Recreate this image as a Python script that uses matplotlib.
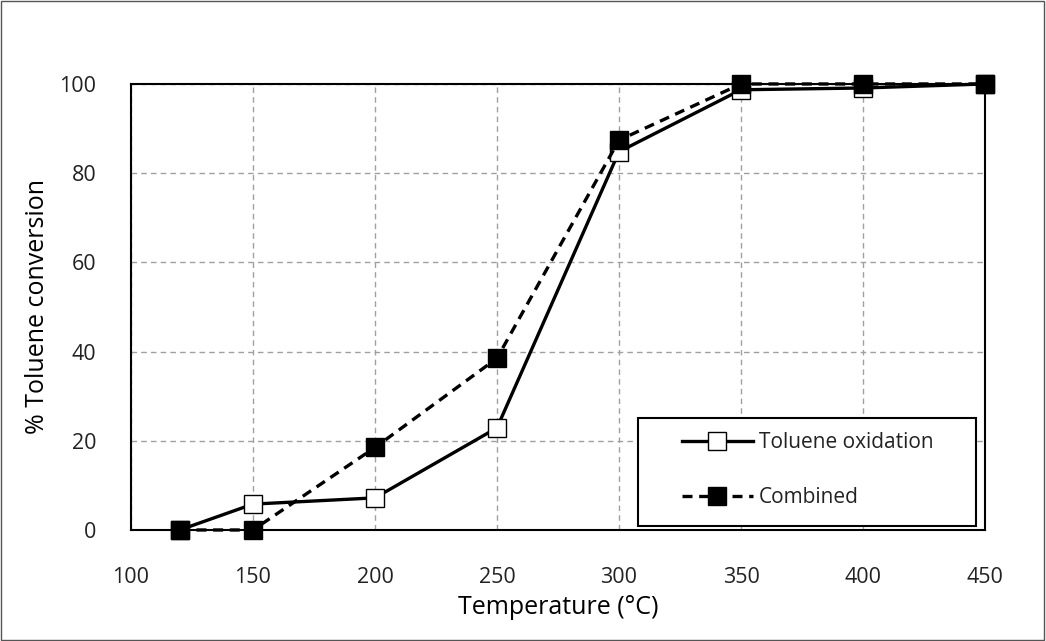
import matplotlib

matplotlib.use("Agg")
import matplotlib.pyplot as plt
from matplotlib.patches import Rectangle

plt.rcParams["font.family"] = ["Open Sans", "DejaVu Sans"]

temperature = [120, 150, 200, 250, 300, 350, 400, 450]
toluene_oxidation = [0, 5.8, 7.2, 22.9, 84.8, 98.7, 99.1, 100]
combined = [0, 0, 18.5, 38.5, 87.4, 100, 100, 100]

x_ticks = [100, 150, 200, 250, 300, 350, 400, 450]
y_ticks = [0, 20, 40, 60, 80, 100]

fig = plt.figure(figsize=(10.46, 6.41), dpi=100)
ax = fig.add_axes([0.1252, 0.1732, 0.8165, 0.6958])

ax.plot(temperature, toluene_oxidation, color="black", lw=2.4, marker="s",
        markersize=13, markerfacecolor="white", markeredgecolor="black",
        markeredgewidth=1.0, label="Toluene oxidation", zorder=3, clip_on=False)
ax.plot(temperature, combined, color="black", lw=2.4, ls=(0, (3, 2)), marker="s",
        markersize=13, markerfacecolor="black", markeredgecolor="black",
        label="Combined", zorder=4, clip_on=False)

ax.set_xlim(100, 450)
ax.set_ylim(0, 100)
ax.set_xticks(x_ticks)
ax.set_yticks(y_ticks)
ax.tick_params(length=0, labelsize=15.5, colors="#222222")
ax.tick_params(axis="x", pad=27)
ax.tick_params(axis="y", pad=25)
ax.grid(color="#a0a0a0", ls=(0, (4, 3)), lw=1.0)
for spine in ax.spines.values():
    spine.set_linewidth(1.5)

ax.set_xlabel("Temperature (°C)", fontsize=18, labelpad=5)
ax.set_ylabel("% Toluene conversion", fontsize=18, labelpad=7)

# legend frame drawn separately so the entries can sit indented inside it
ax.add_patch(Rectangle((0.594, 0.009), 0.395, 0.242, transform=ax.transAxes,
                       facecolor="white", edgecolor="black", lw=1.5, zorder=5,
                       clip_on=False))
legend = ax.legend(loc="center left", bbox_to_anchor=(0.645, 0.1345),
                   fontsize=15, frameon=False, handlelength=3.4,
                   handletextpad=0.3, borderpad=0.0, labelspacing=1.62,
                   borderaxespad=0.0)
legend.set_zorder(6)
for text in legend.get_texts():
    text.set_color("#222222")

fig.patches.append(Rectangle((0.001, 0.001), 0.997, 0.997, transform=fig.transFigure,
                             fill=False, edgecolor="#555555", lw=1.0))

fig.savefig("out.png", dpi=100)
